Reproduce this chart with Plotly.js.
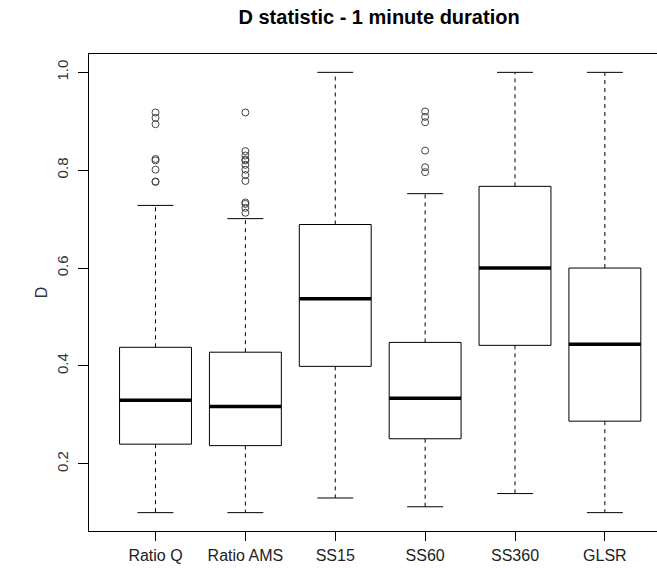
<!DOCTYPE html>
<html>
<head>
<meta charset="utf-8">
<script src="https://cdn.plot.ly/plotly-3.0.1.min.js"></script>
<style>html,body{margin:0;padding:0;background:#fff;}#chart{width:657px;height:568px;}</style>
</head>
<body>
<div id="chart"></div>
<script>
// Box statistics
var categories = ["Ratio Q", "Ratio AMS", "SS15", "SS60", "SS360", "GLSR"];
var lowerWhisker = [0.100, 0.100, 0.130, 0.112, 0.139, 0.100];
var q1Values     = [0.240, 0.237, 0.399, 0.251, 0.442, 0.287];
var medianValues = [0.330, 0.317, 0.537, 0.334, 0.600, 0.444];
var q3Values     = [0.438, 0.428, 0.689, 0.448, 0.767, 0.600];
var upperWhisker = [0.728, 0.701, 1.000, 0.752, 1.000, 1.000];

// Outliers per category
var outliersRatioQ   = [0.918, 0.907, 0.894, 0.823, 0.820, 0.801, 0.777, 0.776];
var outliersRatioAMS = [0.918, 0.839, 0.830, 0.822, 0.820, 0.811, 0.801, 0.790, 0.778, 0.734, 0.731, 0.723, 0.713];
var outliersSS15     = [];
var outliersSS60     = [0.920, 0.909, 0.898, 0.840, 0.806, 0.796];
var outliersSS360    = [];
var outliersGLSR     = [];
var outlierLists = [outliersRatioQ, outliersRatioAMS, outliersSS15, outliersSS60, outliersSS360, outliersGLSR];

var yTickVals = [0.2, 0.4, 0.6, 0.8, 1.0];
var yTickText = ["0.2", "0.4", "0.6", "0.8", "1.0"];

// Geometry (style)
var HALF_BOX = 0.4, HALF_CAP = 0.2;

var pos = categories.map(function (c, i) { return i + 1; });
var bx = [], by = [], mx = [], my = [], wx = [], wy = [], cx = [], cy = [], ox = [], oy = [];
pos.forEach(function (p, i) {
  bx.push(p - HALF_BOX, p + HALF_BOX, p + HALF_BOX, p - HALF_BOX, p - HALF_BOX, null);
  by.push(q1Values[i], q1Values[i], q3Values[i], q3Values[i], q1Values[i], null);
  mx.push(p - HALF_BOX, p + HALF_BOX, null);
  my.push(medianValues[i], medianValues[i], null);
  wx.push(p, p, null, p, p, null);
  wy.push(q3Values[i], upperWhisker[i], null, q1Values[i], lowerWhisker[i], null);
  cx.push(p - HALF_CAP, p + HALF_CAP, null, p - HALF_CAP, p + HALF_CAP, null);
  cy.push(upperWhisker[i], upperWhisker[i], null, lowerWhisker[i], lowerWhisker[i], null);
  outlierLists[i].forEach(function (v) { ox.push(p); oy.push(v); });
});

var traces = [
  {x: wx, y: wy, mode: "lines", line: {color: "#000", width: 1, dash: "4px,4px"}, hoverinfo: "skip"},
  {x: cx, y: cy, mode: "lines", line: {color: "#000", width: 1}, hoverinfo: "skip"},
  {x: bx, y: by, mode: "lines", line: {color: "#000", width: 1}, hoverinfo: "skip"},
  {x: mx, y: my, mode: "lines", line: {color: "#000", width: 3.5}, hoverinfo: "skip"},
  {x: ox, y: oy, mode: "markers", marker: {symbol: "circle-open", size: 7, color: "#444", line: {width: 1, color: "#444"}}, hoverinfo: "skip"}
];

var layout = {
  width: 657, height: 568,
  paper_bgcolor: "#fff", plot_bgcolor: "#fff",
  showlegend: false,
  margin: {l: 89, r: 0, t: 54, b: 37, pad: 0},
  font: {family: "Liberation Sans, Arial, sans-serif", color: "#222"},
  title: {
    text: "<b>D statistic - 1 minute duration</b>",
    font: {size: 20, color: "#000", family: "Liberation Sans, Arial, sans-serif"},
    x: 0.577, xref: "container", xanchor: "center",
    y: 0.970, yref: "container", yanchor: "middle"
  },
  xaxis: {
    range: [0.26, 6.58],
    tickmode: "array", tickvals: pos, ticktext: categories,
    ticks: "outside", ticklen: 9, tickwidth: 1, tickcolor: "#000",
    showline: true, linecolor: "#000", linewidth: 1, mirror: true,
    showgrid: false, zeroline: false,
    tickfont: {size: 16, color: "#222"}, ticklabelstandoff: 1
  },
  yaxis: {
    range: [0.0625, 1.0375],
    tickmode: "array", tickvals: yTickVals, ticktext: yTickText,
    ticks: "outside", ticklen: 10, tickwidth: 1, tickcolor: "#000",
    showline: true, linecolor: "#000", linewidth: 1,
    showgrid: false, zeroline: false,
    tickangle: -90,
    tickfont: {size: 15, color: "#333"}, ticklabelstandoff: 4,
    title: {text: "D", font: {size: 16, color: "#333"}, standoff: 2}
  }
};

Plotly.newPlot("chart", traces, layout, {staticPlot: true, displayModeBar: false});
</script>
</body>
</html>
